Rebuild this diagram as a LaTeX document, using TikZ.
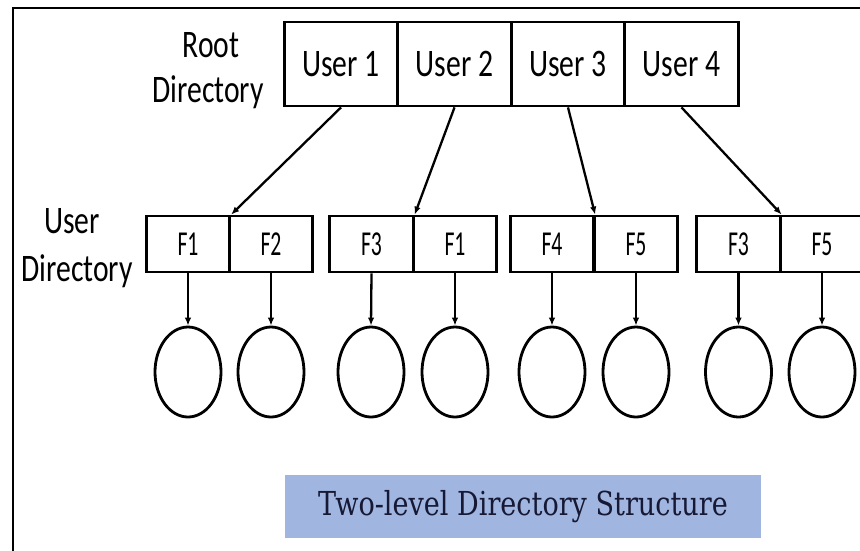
\documentclass[tikz,border=0pt]{standalone}
\usepackage{fontspec}
\setmainfont{Carlito}
\newfontfamily\labelfont[FakeStretch=0.76]{Carlito}
\newfontfamily\cellfont[FakeStretch=0.62]{Carlito}
\newfontfamily\titlefont[FakeStretch=0.82]{DejaVu Serif}
\usetikzlibrary{shapes.geometric,arrows.meta}
\definecolor{titlefill}{RGB}{160,182,224}
\definecolor{titleink}{RGB}{22,24,52}
\begin{document}
\begin{tikzpicture}[x=1pt,y=-1pt,
  rootcell/.style={draw,line width=2.8pt,minimum width=113.5pt,minimum height=84pt,
    inner sep=0pt,font=\labelfont\fontsize{39}{42}\selectfont},
  filecell/.style={draw,line width=2.8pt,minimum width=83.5pt,minimum height=56pt,
    inner sep=0pt,font=\cellfont\fontsize{35}{38}\selectfont},
  filenode/.style={draw,ellipse,line width=2.8pt,minimum width=66pt,minimum height=90pt,inner sep=0pt},
  sidelabel/.style={anchor=base,inner sep=0pt,font=\labelfont\fontsize{39}{42}\selectfont},
  link/.style={line width=2.3pt,-{Latex[length=8pt,width=6.5pt]}}]
\useasboundingbox (0,0) rectangle (860,550);
\clip (0,0) rectangle (860,550);
\fill[white] (0,0) rectangle (860,550);

% outer frame
\draw[line width=2.8pt] (13,570) -- (13,8) -- (880,8);

% side labels
\node[sidelabel] (rootA) at (211,57) {Root};
\node[sidelabel] (rootB) at (208,102) {Directory};
\node[sidelabel] (userA) at (72,233) {User};
\node[sidelabel] (userB) at (77,281) {Directory};

% root directory
\node[rootcell] (u1) at (341,64) {User 1};
\node[rootcell] (u2) at (454.5,64) {User 2};
\node[rootcell] (u3) at (568,64) {User 3};
\node[rootcell] (u4) at (681.5,64) {User 4};

% user directories
\node[filecell] (f11) at (188,244) {F1};
\node[filecell] (f12) at (271,244) {F2};
\node[filecell] (f21) at (371.5,244) {F3};
\node[filecell] (f22) at (455,244) {F1};
\node[filecell] (f31) at (552,244) {F4};
\node[filecell] (f32) at (636,244) {F5};
\node[filecell] (f41) at (738.5,244) {F3};
\node[filecell] (f42) at (822,244) {F5};

% files
\foreach \n/\x in {1/188,2/271,3/371,4/455,5/552,6/636,7/738.5,8/822}
  \node[filenode] (c\n) at (\x,372) {};

% root to user directories
\draw[link] (u1.south) -- (f11.north east);
\draw[link] (u2.south) -- (f21.north east);
\draw[link] (u3.south) -- (f31.north east);
\draw[link] (u4.south) -- (f41.north east);

% user directories to files
\draw[link] (f11.south) -- (c1.north);
\draw[link] (f12.south) -- (c2.north);
\draw[link] (f21.south) -- (c3.north);
\draw[link] (f22.south) -- (c4.north);
\draw[link] (f31.south) -- (c5.north);
\draw[link] (f32.south) -- (c6.north);
\draw[link] (f41.south) -- (c7.north);
\draw[link] (f42.south) -- (c8.north);

% caption
\node[fill=titlefill,minimum width=476pt,minimum height=63pt,inner sep=0pt,
  text=titleink,font=\titlefont\fontsize{33}{36}\selectfont] (caption) at (523,506.5)
  {Two-level Directory Structure};
\end{tikzpicture}
\end{document}
